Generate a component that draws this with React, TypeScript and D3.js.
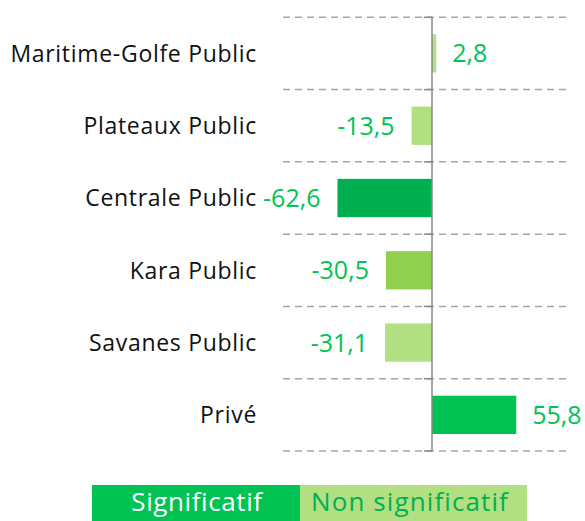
import React from 'react'
import { scaleBand, scaleLinear } from 'd3'

const categories = ['Maritime-Golfe Public', 'Plateaux Public', 'Centrale Public', 'Kara Public', 'Savanes Public', 'Privé']
const values = [2.8, -13.5, -62.6, -30.5, -31.1, 55.8]
const barColors = ['#B3DF83', '#B3DF83', '#00B050', '#92D050', '#B3DF83', '#00C353']
const legendLabels = ['Significatif', 'Non significatif']
const legendColors = ['#00C353', '#B3DF83']
const legendTextColors = ['#ffffff', '#00B050']

const W = 585, H = 521
const font = '"Open Sans", Lato, sans-serif'

const fmt = (v: number) => String(v).replace('.', ',')

const App = () => {
    const x = scaleLinear().domain([-100, 100]).range([281, 583])
    const y = scaleBand<string>()
        .domain(categories)
        .range([17.3, 451])
        .paddingInner(0.47)
        .paddingOuter(0.235)

    const step = y.step()
    const gridYs = categories.map(c => (y(c) as number) - step * 0.235)
    gridYs.push((y(categories[categories.length - 1]) as number) + y.bandwidth() + step * 0.235)

    const x0 = x(0)

    return (
        <svg width={W} height={H} style={{ position: 'absolute', left: 0, top: 0, fontFamily: font }}>
            {/* dashed gridlines */}
            {gridYs.map((gy, i) => (
                <g key={'g' + i}>
                    <line x1={283} x2={569} y1={gy} y2={gy} stroke="#a6a6a6" strokeWidth={1.5} strokeDasharray="7,5" />
                    <line x1={x0 - 8} x2={x0} y1={gy} y2={gy} stroke="#888" strokeWidth={1.5} />
                </g>
            ))}

            {/* bars */}
            {categories.map((c, i) => {
                const v = values[i]
                const bx = Math.min(x(v), x0)
                const bw = Math.abs(x(v) - x0)
                return (
                    <rect key={'b' + i} x={bx} y={y(c)} width={bw} height={y.bandwidth()} fill={barColors[i]} />
                )
            })}

            {/* zero axis */}
            <line x1={x0} x2={x0} y1={gridYs[0]} y2={gridYs[gridYs.length - 1]} stroke="#888" strokeWidth={1.5} />

            {/* value labels */}
            {categories.map((c, i) => {
                const v = values[i]
                const cy = (y(c) as number) + y.bandwidth() / 2
                return (
                    <text key={'v' + i} x={v >= 0 ? x(v) + 16 : x(v) - 17} y={cy} dy="0.36em"
                        textAnchor={v >= 0 ? 'start' : 'end'} fontSize={25} fill="#00C353">
                        {fmt(v)}
                    </text>
                )
            })}

            {/* category labels */}
            {categories.map((c, i) => (
                <text key={'c' + i} x={257} y={(y(c) as number) + y.bandwidth() / 2} dy="0.36em"
                    textAnchor="end" fontSize={23} letterSpacing={0.7} fill="#111">
                    {c}
                </text>
            ))}

            {/* legend */}
            <rect x={92} y={485} width={208} height={40} fill={legendColors[0]} />
            <rect x={300} y={485} width={227} height={40} fill={legendColors[1]} />
            <text x={197} y={502} dy="0.36em" textAnchor="middle" fontSize={26} letterSpacing={0.6} fill={legendTextColors[0]}>{legendLabels[0]}</text>
            <text x={410} y={502} dy="0.36em" textAnchor="middle" fontSize={26} letterSpacing={1.1} fill={legendTextColors[1]}>{legendLabels[1]}</text>
        </svg>
    )
}

export default App
